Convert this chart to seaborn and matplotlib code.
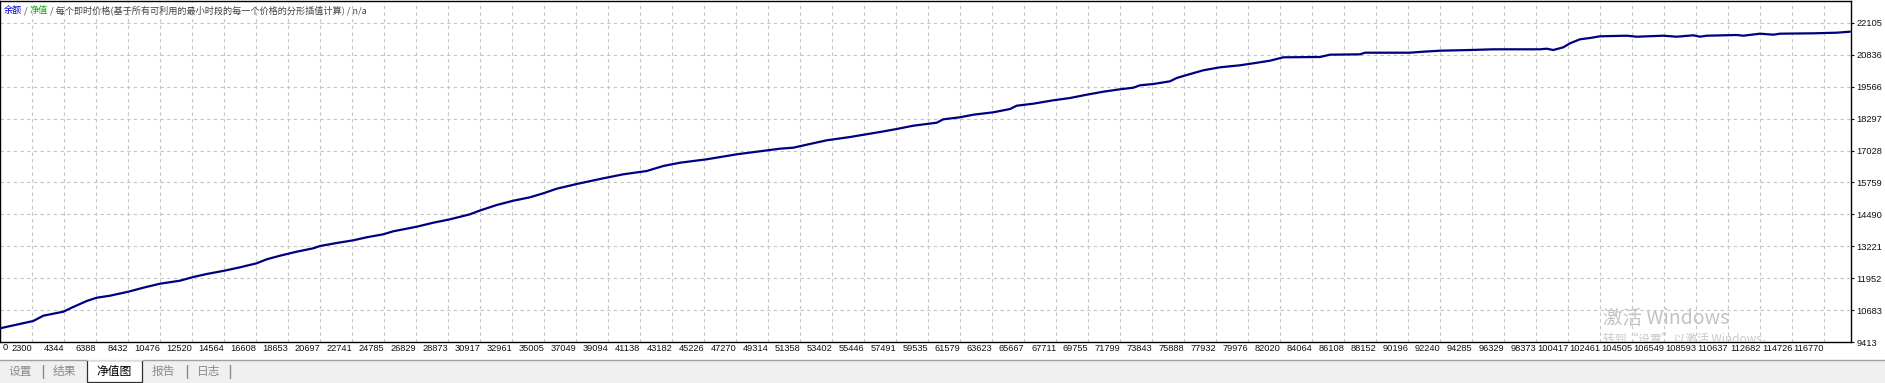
import numpy as np
import pandas as pd
import matplotlib
matplotlib.use("Agg")
import matplotlib.pyplot as plt
from matplotlib.patches import Rectangle
from matplotlib.lines import Line2D
import seaborn as sns

# ---------------- data ----------------
tick_x = [237, 2364, 3003, 4280, 4817, 5775, 6414, 7264, 8433, 9391,
          10458, 11735, 12585, 13441, 14565, 15568, 16635, 17274, 18123, 19190,
          20250, 20678, 21745, 22805, 23662, 24722, 25361, 26856, 27916, 28983,
          30260, 30899, 31966, 33026, 34093, 34943, 35799, 37076, 38776, 40053,
          41548, 42608, 43675, 45381, 47297, 48786, 50063, 50913, 51769, 53046,
          54535, 56451, 57518, 58578, 60073, 60495, 61562, 62411, 63689, 64756,
          65184, 66244, 67522, 68588, 69655, 70716, 71782, 72632, 73060, 73910,
          74976, 75404, 76043, 77104, 78170, 79448, 80298, 81364, 82214, 84558,
          85197, 87114, 87433, 90308, 91157, 92224, 94140, 95629, 98612, 99040,
          99462, 100100, 100528, 101167, 101806, 102445, 104150, 104789, 106488, 107344,
          108405, 108833, 109261, 111177, 111599, 112666, 113515, 113943, 116070, 117565, 118415]
equity = [9969, 10259, 10469, 10628, 10787, 11053, 11184, 11263, 11422, 11581,
          11740, 11859, 12006, 12125, 12256, 12391, 12550, 12709, 12852, 13011,
          13146, 13237, 13356, 13463, 13583, 13702, 13821, 14003, 14162, 14297,
          14496, 14647, 14865, 15036, 15171, 15330, 15512, 15699, 15925, 16084,
          16215, 16414, 16545, 16680, 16878, 16998, 17101, 17141, 17260, 17434,
          17565, 17764, 17883, 18014, 18133, 18268, 18348, 18451, 18546, 18677,
          18808, 18888, 19023, 19114, 19245, 19364, 19460, 19523, 19618, 19670,
          19777, 19908, 20027, 20214, 20333, 20413, 20492, 20595, 20730, 20742,
          20834, 20849, 20913, 20913, 20953, 20992, 21020, 21048, 21048, 21072,
          21020, 21127, 21286, 21445, 21497, 21564, 21588, 21548, 21588, 21548,
          21604, 21548, 21588, 21616, 21588, 21668, 21628, 21668, 21683, 21707, 21747]

x_labels = ["0", "2300", "4344", "6388", "8432", "10476", "12520", "14564", "16608",
            "18653", "20697", "22741", "24785", "26829", "28873", "30917", "32961",
            "35005", "37049", "39094", "41138", "43182", "45226", "47270", "49314",
            "51358", "53402", "55446", "57491", "59535", "61579", "63623", "65667",
            "67711", "69755", "71799", "73843", "75888", "77932", "79976", "82020",
            "84064", "86108", "88152", "90196", "92240", "94285", "96329", "98373",
            "100417", "102461", "104505", "106549", "108593", "110637", "112682",
            "114726", "116770"]
y_ticks = [9413, 10683, 11952, 13221, 14490, 15759, 17028, 18297, 19566, 20836, 22105]

title_parts = ["余额", " / ", "净值",
               " / 每个即时价格(基于所有可利用的最小时段的每一个价格的分形插值计算) / n/a"]
tab_labels = ["设置", "结果", "净值图", "报告", "日志"]
watermark = ["激活 Windows", "转到“设置”以激活 Windows。"]

# ---------------- styling ----------------
sns.set_style("white")
plt.rcParams["font.family"] = ["Liberation Sans", "Noto Sans CJK SC", "DejaVu Sans"]
CJK = ["Noto Sans CJK SC", "DejaVu Sans"]

W, H = 1885, 383
fig = plt.figure(figsize=(W / 100, H / 100), dpi=100)
fig.patch.set_facecolor("white")

ax_left, ax_right, ax_top, ax_bot = 0, 1851, 1, 342.3
ax = fig.add_axes([ax_left / W, 1 - ax_bot / H, (ax_right - ax_left) / W, (ax_bot - ax_top) / H])

df = pd.DataFrame({"x": tick_x, "equity": equity})
sns.lineplot(data=df, x="x", y="equity", ax=ax, color="#00007f", lw=1.6,
             estimator=None, sort=False, zorder=3)

ax.set_xlim(237, 118479)
ax.set_ylim(9413, 22966)
ax.set_xlabel("")
ax.set_ylabel("")

xt = [int(v) for v in x_labels[1:]]
ax.set_xticks(xt)
ax.set_xticklabels(x_labels[1:], ha="right", fontsize=6.7, color="#111111")
ax.tick_params(axis="x", length=0, pad=1.2)
ax.text(0.0015, -0.003, x_labels[0], transform=ax.transAxes, ha="left", va="top",
        fontsize=6.7, color="#111111")

ax.yaxis.tick_right()
ax.set_yticks(y_ticks)
ax.set_yticklabels([str(v) for v in y_ticks], fontsize=6.7, color="#111111")
ax.tick_params(axis="y", direction="out", length=2.5, width=0.8, pad=1.5, colors="#111111")

ax.grid(True, linestyle=(0, (3, 3)), color="#c4c4c4", lw=0.8)
for s in ax.spines.values():
    s.set_visible(True)
    s.set_color("black")
    s.set_linewidth(1.0)

# title with coloured parts
colors = ["#0000c8", "#444444", "#00b000", "#444444"]
t = ax.text(0.0022, 0.972, title_parts[0], transform=ax.transAxes, ha="left", va="center",
            fontsize=6.6, color=colors[0], family=CJK, zorder=5)
prev = t
for part, c in zip(title_parts[1:], colors[1:]):
    prev = ax.annotate(part, xy=(1, 0.5), xycoords=prev, ha="left", va="center",
                       fontsize=6.6, color=c, family=CJK, zorder=5)

# watermark
fig.text(1603 / W, 1 - 318 / H, watermark[0], ha="left", va="center", fontsize=14,
         color="#c2c2c2", family=CJK)
ax.text(1603 / W / ((ax_right - ax_left) / W), 1 - (340 - ax_top) / (ax_bot - ax_top),
        watermark[1], transform=ax.transAxes, ha="left", va="center", fontsize=8.5,
        color="#c8c8c8", family=CJK, clip_on=True)

# bottom tab bar
fig.patches.append(Rectangle((0, 0), 1, (H - 359.5) / H, transform=fig.transFigure,
                             facecolor="#f0f0f0", edgecolor="none", zorder=0))
ytop = 1 - 359.5 / H
fig.lines.append(Line2D([0, 87 / W], [ytop, ytop], transform=fig.transFigure, color="#a0a0a0", lw=1))
fig.lines.append(Line2D([142 / W, 1], [ytop, ytop], transform=fig.transFigure, color="#a0a0a0", lw=1))
fig.patches.append(Rectangle((87 / W, 1 - 382 / H), 55 / W, (382 - 359.5) / H,
                             transform=fig.transFigure, facecolor="white",
                             edgecolor="#303030", lw=0.9, zorder=1))
fig.lines.append(Line2D([87.5 / W, 141.5 / W], [ytop, ytop], transform=fig.transFigure,
                        color="white", lw=1.2, zorder=2))
for sx in [43, 187, 230]:
    fig.lines.append(Line2D([sx / W, sx / W], [1 - 365 / H, 1 - 378 / H],
                            transform=fig.transFigure, color="#8a8a8a", lw=1))
tab_cx = [20, 64, 114.5, 163.5, 208.5]
for lab, cx in zip(tab_labels, tab_cx):
    fig.text(cx / W, 1 - 371 / H, lab, ha="center", va="center", fontsize=8.5,
             color="black" if lab == "净值图" else "#8a8a8a", family=CJK)

fig.savefig("out.png", dpi=100, facecolor="white")
